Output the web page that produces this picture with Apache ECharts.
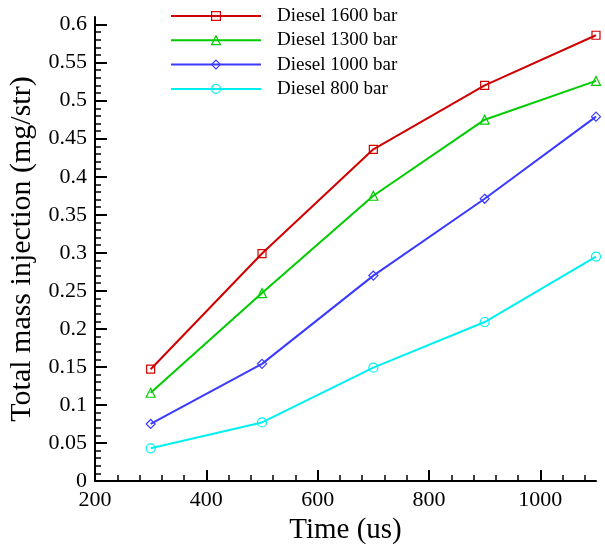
<!DOCTYPE html>
<html>
<head>
<meta charset="utf-8">
<script src="https://cdn.jsdelivr.net/npm/echarts@6/dist/echarts.min.js"></script>
<style>html,body{margin:0;padding:0;background:#fff}#c{width:605px;height:546px}</style>
</head>
<body>
<div id="c"></div>
<script>
const times = [300, 500, 700, 900, 1100];
const diesel1600 = [0.147, 0.299, 0.436, 0.520, 0.586];
const diesel1300 = [0.116, 0.247, 0.375, 0.475, 0.526];
const diesel1000 = [0.075, 0.154, 0.270, 0.371, 0.479];
const diesel800  = [0.043, 0.077, 0.149, 0.209, 0.295];
const seriesNames = ['Diesel 1600 bar', 'Diesel 1300 bar', 'Diesel 1000 bar', 'Diesel 800 bar'];
const xMajorTicks = [200, 400, 600, 800, 1000];
const yMajorTicks = [0, 0.05, 0.1, 0.15, 0.2, 0.25, 0.3, 0.35, 0.4, 0.45, 0.5, 0.55, 0.6];

const colors = ['#d00000', '#00cc00', '#3a3aff', '#00f0f0'];
const symbols = ['rect', 'triangle', 'diamond', 'circle'];
const symSizes = [8, 9, 9, 9];
const values = [diesel1600, diesel1300, diesel1000, diesel800];

const xMinor = [];
for (let v = 200; v <= 1100; v += 40) if (v % 200 !== 0) xMinor.push(v);
const yMinor = [];
for (let i = 0; i <= 60; i++) if (i % 5 !== 0) yMinor.push(i / 100);

const FONT = "'Liberation Serif', 'Times New Roman', serif";

const chart = echarts.init(document.getElementById('c'), null, {renderer: 'canvas'});
chart.setOption({
  backgroundColor: '#fff',
  animation: false,
  textStyle: {fontFamily: FONT, color: '#000'},
  grid: {left: 95, right: 9, top: 17, bottom: 65, containLabel: false, outerBoundsMode: 'none'},
  legend: {
    orient: 'vertical', left: 170, top: 6, padding: 0,
    itemWidth: 90, itemHeight: 11, itemGap: 4.3,
    data: seriesNames,
    itemStyle: {color: 'rgba(255,255,255,0)', borderWidth: 1.2},
    textStyle: {fontFamily: FONT, fontSize: 19, color: '#000', lineHeight: 20, padding: [0, 0, 0, 11]}
  },
  xAxis: [{
    type: 'value', min: 200, max: 1100, position: 'bottom',
    name: 'Time (us)', nameLocation: 'middle', nameGap: 30,
    nameTextStyle: {fontFamily: FONT, fontSize: 29, color: '#000'},
    axisLine: {show: true, onZero: false, lineStyle: {color: '#000', width: 2}},
    axisTick: {show: true, inside: true, length: 11, customValues: xMajorTicks, lineStyle: {color: '#000', width: 2}},
    axisLabel: {show: true, customValues: xMajorTicks, margin: 8, fontFamily: FONT, fontSize: 22, color: '#000',
      formatter: v => String(v)},
    splitLine: {show: false}
  }, {
    type: 'value', min: 200, max: 1100, position: 'bottom',
    axisLine: {show: false, onZero: false},
    axisTick: {show: true, inside: true, length: 6, customValues: xMinor, lineStyle: {color: '#000', width: 1.5}},
    axisLabel: {show: false},
    splitLine: {show: false}
  }],
  yAxis: [{
    type: 'value', min: 0, max: 0.61, position: 'left',
    name: 'Total mass injection (mg/str)', nameLocation: 'middle', nameGap: 48,
    nameTextStyle: {fontFamily: FONT, fontSize: 30, color: '#000'},
    axisLine: {show: true, onZero: false, lineStyle: {color: '#000', width: 2}},
    axisTick: {show: true, inside: true, length: 12, customValues: yMajorTicks, lineStyle: {color: '#000', width: 2}},
    axisLabel: {show: true, customValues: yMajorTicks, margin: 8, fontFamily: FONT, fontSize: 22, color: '#000',
      formatter: v => String(+(+v).toFixed(2))},
    splitLine: {show: false}
  }, {
    type: 'value', min: 0, max: 0.61, position: 'left',
    axisLine: {show: false, onZero: false},
    axisTick: {show: true, inside: true, length: 6, customValues: yMinor, lineStyle: {color: '#000', width: 1.5}},
    axisLabel: {show: false},
    splitLine: {show: false}
  }],
  series: seriesNames.map((name, i) => ({
    name: name,
    type: 'line',
    xAxisIndex: 0, yAxisIndex: 0,
    data: times.map((t, j) => [t, values[i][j]]),
    symbol: symbols[i],
    symbolSize: symSizes[i],
    showAllSymbol: true,
    color: colors[i],
    lineStyle: {color: colors[i], width: 2},
    itemStyle: {color: 'rgba(255,255,255,0)', borderColor: colors[i], borderWidth: 1.2},
    emphasis: {disabled: true}
  }))
});
</script>
</body>
</html>
